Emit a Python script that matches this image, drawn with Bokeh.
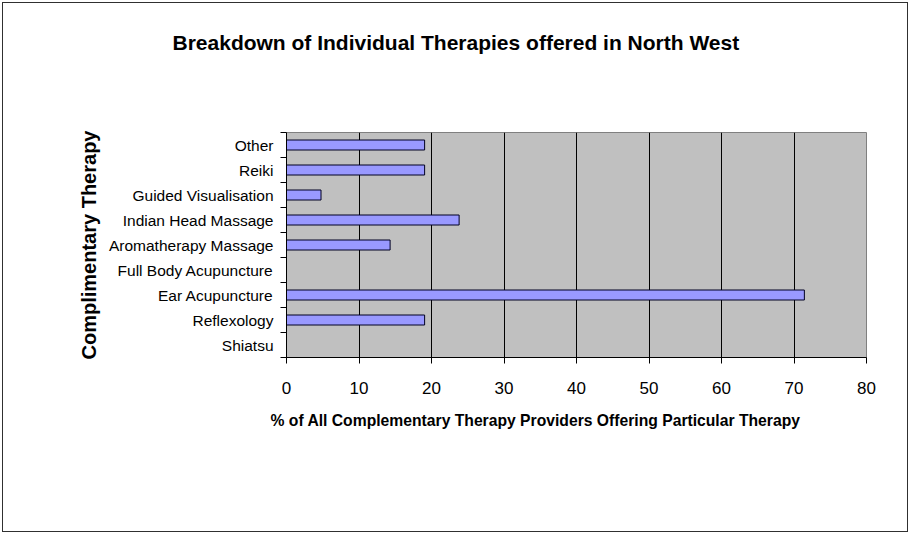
from bokeh.plotting import figure
from bokeh.models import FixedTicker, Range1d, ColumnDataSource, Title, InlineStyleSheet
from bokeh.embed import file_html
from bokeh.resources import INLINE

# Therapies, listed bottom-to-top as they appear on the axis
therapies = [
    "Shiatsu",
    "Reflexology",
    "Ear Acupuncture",
    "Full Body Acupuncture",
    "Aromatherapy Massage",
    "Indian Head Massage",
    "Guided Visualisation",
    "Reiki",
    "Other",
]
# % of providers offering each therapy
percent_offering = [0.0, 19.05, 71.43, 0.0, 14.29, 23.81, 4.76, 19.05, 19.05]
x_ticks = [0, 10, 20, 30, 40, 50, 60, 70, 80]

FONT = "Liberation Sans"

rows = [i + 0.5 for i in range(len(therapies))]
source = ColumnDataSource(data=dict(y=rows, pct=percent_offering, name=therapies))

p = figure(
    width=909,
    height=533,
    output_backend="svg",
    toolbar_location=None,
    x_range=Range1d(0, 80),
    y_range=Range1d(0, len(therapies)),
    min_border_left=286,
    min_border_right=43,
    min_border_top=132,
    min_border_bottom=176,
)
# thin frame round the whole chart area
p.stylesheets = [InlineStyleSheet(css="""
:host { position: relative; }
:host::after {
  content: ""; position: absolute; left: 2px; top: 2px; right: 1px; bottom: 1px;
  border: 1.5px solid #303030; pointer-events: none; z-index: 100;
}
""")]

# plot area
p.background_fill_color = "#C0C0C0"
p.border_fill_color = "white"
p.outline_line_color = "#808080"
p.outline_line_width = 1

# bars
p.hbar(y="y", left=0, right="pct", height=0.4, source=source,
       fill_color="#9999FF", line_color="#000022", line_width=1)

# chart title; trailing blank lines lift it well clear of the plot area
p.title.text = "Breakdown of Individual Therapies offered in North West\n \n \n "
p.title.text_font = FONT
p.title.text_font_size = "21px"
p.title.text_font_style = "bold"
p.title.text_color = "black"
p.title.align = "left"
p.title.offset = -114
p.title.standoff = 20

# x axis
xa = p.xaxis[0]
xa.ticker = FixedTicker(ticks=x_ticks)
xa.axis_line_color = "black"
xa.major_tick_line_color = "black"
xa.major_tick_out = 6
xa.major_tick_in = 0
xa.minor_tick_line_color = None
xa.major_label_text_font = FONT
xa.major_label_text_font_size = "17px"
xa.major_label_text_color = "black"
xa.major_label_standoff = 18

p.add_layout(Title(text="% of All Complementary Therapy Providers Offering Particular Therapy",
                   text_font=FONT, text_font_size="15.7px", text_font_style="bold",
                   text_color="black", align="left", offset=-16, standoff=26), "below")

# y axis: labels at category centres, ticks on category boundaries
ya = p.yaxis[0]
ya.ticker = FixedTicker(ticks=rows, minor_ticks=list(range(len(therapies) + 1)))
ya.major_label_overrides = {r: t for r, t in zip(rows, therapies)}
ya.axis_line_color = "black"
ya.major_tick_line_color = None
ya.minor_tick_line_color = "black"
ya.minor_tick_out = 6
ya.minor_tick_in = 0
ya.major_label_text_font = FONT
ya.major_label_text_font_size = "15.5px"
ya.major_label_text_color = "black"
ya.major_label_standoff = 7
ya.axis_label = "Complimentary Therapy"
ya.axis_label_text_font = FONT
ya.axis_label_text_font_size = "20px"
ya.axis_label_text_font_style = "bold"
ya.axis_label_text_color = "black"
ya.axis_label_standoff = 6

# grid
p.xgrid.ticker = FixedTicker(ticks=x_ticks[1:-1])
p.xgrid.grid_line_color = "black"
p.xgrid.grid_line_width = 1
p.ygrid.grid_line_color = None

open("out.html", "w").write(file_html(p, INLINE))
